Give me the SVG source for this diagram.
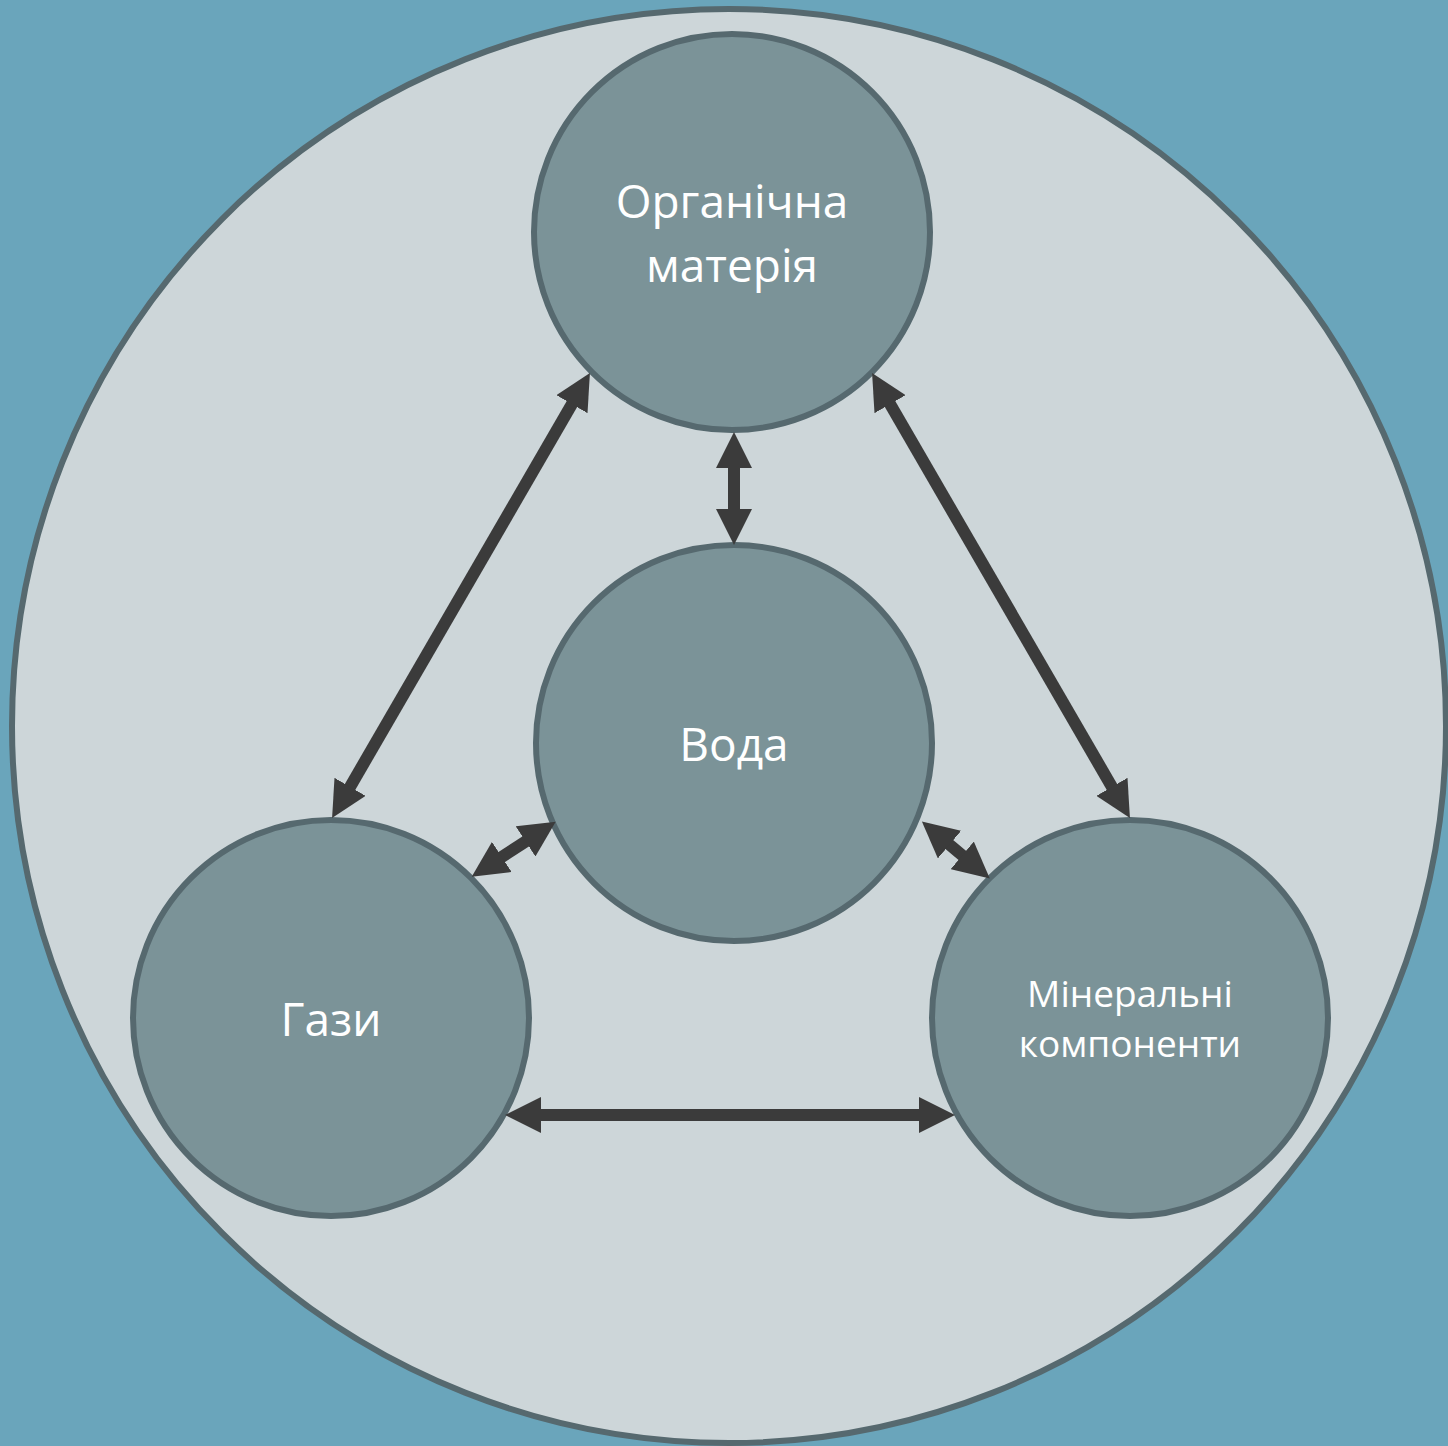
<svg xmlns="http://www.w3.org/2000/svg" width="1448" height="1446" viewBox="0 0 1448 1446">
<style>
.node{fill:#7B9398;stroke:#56696F;stroke-width:6}
.lbl{fill:#FFFFFF;font-family:"Open Sans","Noto Sans",sans-serif;text-anchor:middle}
.big{font-size:46px}
.small{font-size:37px}
.conn line{stroke:#3B3B3B;stroke-width:12;marker-start:url(#ah);marker-end:url(#ah)}
</style>
<defs>
<marker id="ah" markerUnits="userSpaceOnUse" markerWidth="36" markerHeight="36" viewBox="0 0 36 36" refX="1" refY="18" orient="auto-start-reverse">
<path d="M0,0 L36,18 L0,36 z" fill="#3B3B3B"/>
</marker>
</defs>
<rect width="1448" height="1446" fill="#6AA5BB"/>
<circle id="outer" cx="729" cy="726" r="717" fill="#CDD6D9" stroke="#56696F" stroke-width="6"/>
<g id="organic">
<circle class="node" cx="732" cy="232" r="198"/>
<text class="lbl big" x="732" y="218">Органічна</text>
<text class="lbl big" x="732" y="282">матерія</text>
</g>
<g id="water">
<circle class="node" cx="734" cy="743" r="198"/>
<text class="lbl big" x="734" y="761">Вода</text>
</g>
<g id="gases">
<circle class="node" cx="331" cy="1018" r="198"/>
<text class="lbl big" x="331" y="1036">Гази</text>
</g>
<g id="minerals">
<circle class="node" cx="1130" cy="1018" r="198"/>
<text class="lbl small" x="1130" y="1007">Мінеральні</text>
<text class="lbl small" x="1130" y="1057">компоненти</text>
</g>
<g id="connectors" class="conn">
<line x1="734" y1="467" x2="734" y2="510"/>
<line x1="572.4" y1="403.3" x2="349.6" y2="787.7"/>
<line x1="889.6" y1="403.3" x2="1112.4" y2="787.7"/>
<line x1="540" y1="1115" x2="920" y2="1115"/>
<line x1="526.4" y1="840.9" x2="501" y2="857.5"/>
<line x1="948.7" y1="844" x2="963" y2="856"/>
</g>
</svg>
